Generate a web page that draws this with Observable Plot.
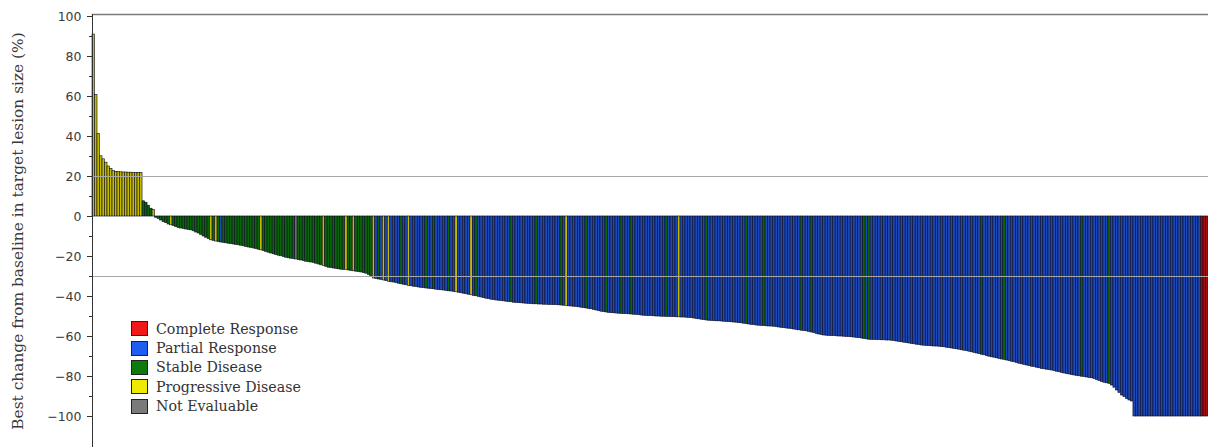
<!DOCTYPE html>
<html>
<head>
<meta charset="utf-8">
<script src="https://cdn.jsdelivr.net/npm/d3@7"></script>
<script src="https://cdn.jsdelivr.net/npm/@observablehq/plot@0.6"></script>
<style>
  html, body { margin: 0; padding: 0; background: #fff; overflow: hidden; }
  #wrap { position: relative; width: 1208px; height: 447px; overflow: hidden; }
  #wrap svg { max-width: none; }
  #legend { position: absolute; left: 131px; top: 319px; font-family: "DejaVu Serif", serif; font-size: 14.2px; color: #333; }
  .row { display: flex; align-items: center; height: 19.4px; }
  .sw { width: 15px; height: 13px; border: 1px solid #222; margin-right: 8px; }
</style>
</head>
<body>
<div id="wrap"></div>
<script>
// Best percentage change in target lesion size, one bar per patient, sorted
const changeValues = [
  91.0, 60.8, 41.2, 30.1, 28.6, 26.9, 25.0, 23.8, 22.7, 22.3,
  22.2, 22.1, 22.0, 22.0, 21.9, 21.9, 21.8, 21.8, 21.7, 21.7,
  7.6, 6.9, 5.4, 3.9, 3.2, -0.6, -1.2, -2.0, -2.8, -3.3,
  -4.0, -4.4, -4.8, -5.3, -5.8, -6.0, -6.2, -6.5, -6.7, -6.9,
  -7.4, -8.0, -8.5, -9.2, -10.0, -10.6, -11.3, -11.9, -12.2, -12.5,
  -12.8, -13.0, -13.2, -13.4, -13.6, -13.8, -14.0, -14.2, -14.4, -14.6,
  -14.9, -15.2, -15.5, -15.7, -16.0, -16.3, -16.6, -16.9, -17.3, -17.7,
  -18.1, -18.5, -18.9, -19.3, -19.6, -19.9, -20.3, -20.6, -20.9, -21.1,
  -21.3, -21.5, -21.8, -22.0, -22.3, -22.6, -22.8, -23.0, -23.2, -23.6,
  -24.0, -24.4, -24.8, -25.2, -25.6, -25.8, -26.0, -26.2, -26.4, -26.6,
  -26.7, -26.8, -27.0, -27.2, -27.4, -27.6, -27.8, -28.0, -28.3, -28.6,
  -29.2, -30.2, -31.0, -31.2, -31.5, -31.7, -32.0, -32.3, -32.6, -32.9,
  -33.0, -33.3, -33.6, -33.9, -34.1, -34.4, -34.7, -34.9, -35.1, -35.3,
  -35.5, -35.7, -35.8, -36.0, -36.1, -36.3, -36.4, -36.6, -36.8, -36.9,
  -37.0, -37.2, -37.4, -37.5, -37.7, -37.9, -38.1, -38.4, -38.6, -38.9,
  -39.1, -39.4, -39.7, -39.9, -40.2, -40.5, -40.8, -41.1, -41.3, -41.6,
  -41.8, -42.0, -42.1, -42.3, -42.4, -42.6, -42.7, -42.9, -43.1, -43.2,
  -43.3, -43.4, -43.5, -43.6, -43.7, -43.8, -43.9, -43.9, -44.0, -44.0,
  -44.1, -44.1, -44.2, -44.2, -44.3, -44.3, -44.4, -44.5, -44.6, -44.7,
  -44.9, -45.0, -45.1, -45.2, -45.4, -45.6, -45.8, -46.0, -46.2, -46.4,
  -46.7, -47.0, -47.3, -47.6, -47.8, -48.0, -48.2, -48.3, -48.4, -48.5,
  -48.6, -48.7, -48.8, -48.8, -48.9, -49.0, -49.1, -49.2, -49.3, -49.5,
  -49.6, -49.7, -49.8, -49.8, -49.9, -50.0, -50.0, -50.1, -50.1, -50.2,
  -50.2, -50.3, -50.3, -50.4, -50.4, -50.5, -50.5, -50.6, -50.7, -50.8,
  -51.0, -51.2, -51.4, -51.6, -51.8, -52.0, -52.1, -52.2, -52.3, -52.4,
  -52.4, -52.5, -52.6, -52.7, -52.8, -52.9, -53.0, -53.1, -53.3, -53.4,
  -53.6, -53.8, -54.0, -54.2, -54.3, -54.5, -54.6, -54.7, -54.8, -54.9,
  -55.0, -55.0, -55.1, -55.3, -55.5, -55.7, -55.8, -56.0, -56.1, -56.3,
  -56.5, -56.7, -56.9, -57.1, -57.2, -57.4, -57.7, -58.0, -58.3, -58.7,
  -59.0, -59.3, -59.5, -59.6, -59.7, -59.8, -59.8, -59.9, -60.0, -60.0,
  -60.1, -60.2, -60.3, -60.4, -60.5, -60.7, -60.8, -61.0, -61.2, -61.4,
  -61.6, -61.7, -61.7, -61.8, -61.8, -61.9, -61.9, -62.0, -62.0, -62.1,
  -62.3, -62.5, -62.7, -62.9, -63.1, -63.3, -63.5, -63.7, -63.9, -64.1,
  -64.3, -64.5, -64.6, -64.7, -64.8, -64.9, -65.0, -65.0, -65.1, -65.3,
  -65.4, -65.6, -65.8, -66.0, -66.2, -66.4, -66.6, -66.9, -67.1, -67.3,
  -67.6, -67.9, -68.2, -68.5, -68.8, -69.1, -69.4, -69.8, -70.1, -70.4,
  -70.6, -70.9, -71.2, -71.5, -71.7, -72.0, -72.3, -72.6, -72.9, -73.2,
  -73.6, -73.9, -74.2, -74.5, -74.8, -75.1, -75.3, -75.6, -75.9, -76.2,
  -76.4, -76.6, -76.8, -77.0, -77.3, -77.6, -77.9, -78.2, -78.5, -78.8,
  -79.0, -79.3, -79.5, -79.7, -79.9, -80.1, -80.3, -80.5, -80.7, -80.9,
  -81.3, -81.8, -82.3, -82.8, -83.1, -83.4, -83.7, -84.5, -85.6, -87.0,
  -88.2, -89.5, -90.3, -91.2, -92.0, -92.5, -100, -100, -100, -100,
  -100, -100, -100, -100, -100, -100, -100, -100, -100, -100,
  -100, -100, -100, -100, -100, -100, -100, -100, -100, -100,
  -100, -100, -100, -100, -100, -100
];

// Best overall response per bar, as runs of [code, count] in bar order
// C = complete, R = partial, S = stable, P = progressive, N = not evaluable
const responseRuns = [
  ["P",20],["S",4],["P",1],["S",6],["P",1],["S",15],["P",1],["S",1],["P",1],["S",1],
  ["R",1],["S",15],["P",1],["S",13],["N",1],["S",10],["P",1],["S",8],["P",1],["S",2],
  ["P",1],["S",7],["P",1],["R",1],["S",1],["R",1],["P",1],["R",1],["P",1],["R",4],
  ["S",1],["R",2],["P",1],["R",6],["S",1],["R",2],["S",1],["R",5],["S",1],["R",2],
  ["P",1],["R",5],["P",1],["R",1],["S",1],["R",13],["S",1],["R",9],["S",1],["R",9],
  ["S",1],["R",1],["P",1],["R",7],["S",1],["R",7],["S",1],["R",5],["S",1],["R",3],
  ["S",1],["R",13],["S",1],["R",4],["P",1],["R",10],["S",1],["R",15],["S",1],["R",6],
  ["S",1],["R",14],["S",1],["R",3],["S",1],["R",20],["S",1],["R",1],["S",1],["R",44],
  ["S",1],["R",8],["S",1],["R",30],["S",1],["R",10],["S",1],["R",36],["C",3]
];

const responseCodes = ["C", "R", "S", "P", "N"];
const responseNames = ["Complete Response", "Partial Response", "Stable Disease", "Progressive Disease", "Not Evaluable"];
// swatch colours in the key, and the deeper shades the bars are filled with
const swatchColors = ["#f01818", "#1f5cf2", "#0c7a0c", "#eeea00", "#7a7a7a"];
const barColors = ["#a80c0c", "#1d48b8", "#0b660b", "#c4bb00", "#6a6a6a"];

const referenceLines = [20, -30];
const majorTicks = [100, 80, 60, 40, 20, 0, -20, -40, -60, -80, -100];
const minorTicks = [90, 70, 50, 30, 10, -10, -30, -50, -70, -90];
const yLabel = "Best change from baseline in target lesion size (%)";

const codes = responseRuns.flatMap(([c, n]) => Array(n).fill(c));
const nameOf = Object.fromEntries(responseCodes.map((c, k) => [c, responseNames[k]]));
const bars = changeValues.map((v, i) => ({i, v, response: nameOf[codes[i]]}));

const chart = Plot.plot({
  width: 1208,
  height: 447,
  marginLeft: 92,
  marginRight: 0,
  marginTop: 14,
  marginBottom: 0,
  style: {fontFamily: "DejaVu Sans", fontSize: "12.5px", color: "#3a3a3a", background: "#fff"},
  x: {domain: [0, changeValues.length], axis: null},
  y: {domain: [-115.5, 101], axis: null},
  color: {domain: responseNames, range: barColors},
  marks: [
    // one patient per unit slot along x
    Plot.rectY(bars, {x1: "i", x2: d => d.i + 1, y: "v", fill: "response", stroke: "#0a0a1e", strokeWidth: 0.6}),
    Plot.ruleY(referenceLines, {stroke: "#a8a8a8", strokeWidth: 1.2}),
    Plot.frame({anchor: "top", stroke: "#7a7a7a", strokeWidth: 1.5}),
    Plot.frame({anchor: "left", stroke: "#333"}),
    Plot.axisY({ticks: majorTicks, tickSize: 5, tickPadding: 6, label: null, stroke: "#333"}),
    Plot.axisY({ticks: minorTicks, tickSize: 3, text: null, label: null, stroke: "#333"}),
    Plot.text([yLabel], {frameAnchor: "left", textAnchor: "middle", rotate: -90, dx: -74, fontFamily: "DejaVu Serif", fontSize: 15.4, fill: "#3a3a3a"})
  ]
});

const wrap = document.getElementById("wrap");
wrap.appendChild(chart);

// Response key, placed inside the plot area
const legend = document.createElement("div");
legend.id = "legend";
responseNames.forEach((name, k) => {
  const row = document.createElement("div");
  row.className = "row";
  const sw = document.createElement("span");
  sw.className = "sw";
  sw.style.background = swatchColors[k];
  const label = document.createElement("span");
  label.textContent = name;
  row.append(sw, label);
  legend.appendChild(row);
});
wrap.appendChild(legend);
</script>
</body>
</html>
